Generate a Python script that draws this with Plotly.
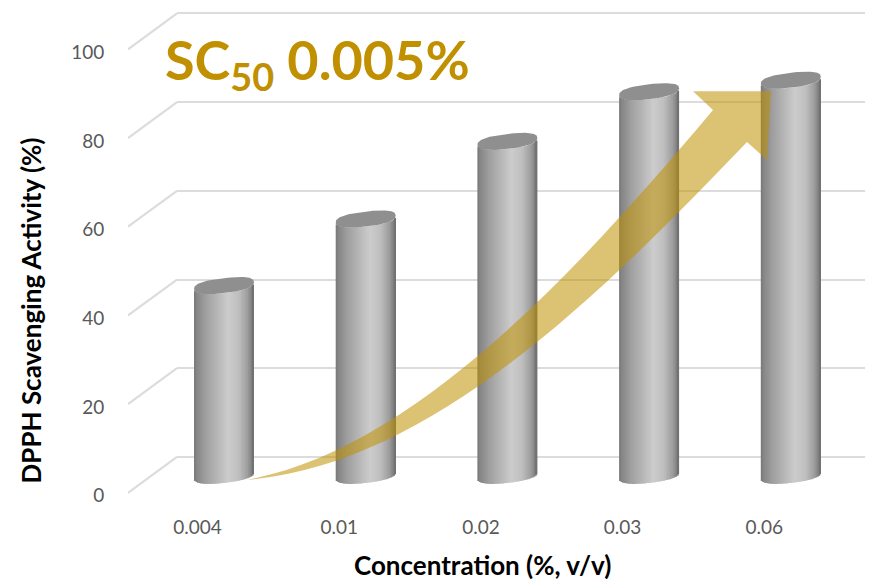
import plotly.graph_objects as go
import numpy as np

# ---- data ----
categories = ["0.004", "0.01", "0.02", "0.03", "0.06"]
scavenging = [42.8, 57.8, 75.3, 86.5, 89.1]
y_ticks = [0, 20, 40, 60, 80, 100]

# ---- styling / geometry (pixels of the 879x582 page) ----
W, H = 879, 582
Y_NUDGE = 1.5         # page offset of the whole figure
PX_PER_UNIT = 4.45
STEP = 141.7
LABEL_X0 = 197.5      # front plane: first category label
BAR_X0 = 224.0        # cylinder plane: first cylinder centre
BAR_Y0 = 475.5        # cylinder plane: pixel of value 0
LABEL_Y0 = 496.0      # pixel at which the "0" tick label is centred
FRONT_Y0 = 493.0      # front plane: pixel of value 0
BACK_Y0 = 457.0       # back wall: pixel of value 0
DEPTH_X, DEPTH_Y = 49.0, 36.0
RADIUS = 30.0
ELL_B, ELL_T = 7.5, 3.4   # ellipse half height and tilt, px
GREY_U = [-1.0, -0.93, -0.6, 0.15, 0.5, 0.8, 0.95, 1.0]
GREY_V = [118, 132, 160, 204, 190, 155, 120, 108]
N_SLICES = 40
TOP_COLOR = "#8f8f8f"
TICK_COLOR = "#595959"
GRID_COLOR = "#dcdcdc"
GRID_WIDTH = 2.2
GOLD = "#c09000"
FONT = "Lato"


def dom_x(a, b):
    return [a / W, b / W]


def py(y):
    return 1 - (y + Y_NUDGE) / H


def dom_y(top, bottom):
    return [py(bottom), py(top)]


def px(x, y):
    return f"{x / W:.5f},{py(y):.5f}"


fig = go.Figure()

# --- subplot 1: back wall gridlines
gx0, gx1, gtop, gbot = 177, 865, 6, 462
back_range = [(BACK_Y0 - gbot) / PX_PER_UNIT, (BACK_Y0 - gtop) / PX_PER_UNIT]
fig.add_trace(go.Scatter(x=[0], y=[0], mode="none", xaxis="x", yaxis="y",
                         showlegend=False, hoverinfo="skip"))

# --- subplot 2: front plane, holds the tick labels and the slanted wall lines
ax0, ax1, atop, abot = 128, W, 0, 505
front_x_range = [(ax0 - LABEL_X0) / STEP, (ax1 - LABEL_X0) / STEP]
front_y_range = [(LABEL_Y0 - abot) / PX_PER_UNIT, (LABEL_Y0 - atop) / PX_PER_UNIT]
label_shift = (LABEL_Y0 - FRONT_Y0) / PX_PER_UNIT
slant_x, slant_y = [], []
for v in y_ticks:
    slant_x += [front_x_range[0], front_x_range[0] + DEPTH_X / STEP, None]
    slant_y += [v + label_shift, v + label_shift + DEPTH_Y / PX_PER_UNIT, None]
fig.add_trace(go.Scatter(x=slant_x, y=slant_y, mode="lines", xaxis="x2", yaxis="y2",
                         line=dict(color=GRID_COLOR, width=GRID_WIDTH),
                         showlegend=False, hoverinfo="skip"))

# --- subplot 3: cylinders
bar_x_range = [(0 - BAR_X0) / STEP, (W - BAR_X0) / STEP]
bar_y_range = [(BAR_Y0 - (H - Y_NUDGE)) / PX_PER_UNIT, (BAR_Y0 + Y_NUDGE) / PX_PER_UNIT]
centres = np.arange(len(categories), dtype=float)
values = np.array(scavenging)
du = 2.0 / N_SLICES
for k in range(N_SLICES):
    u = -1 + (k + 0.5) * du
    grey = int(round(np.interp(u, GREY_U, GREY_V)))
    arc = (ELL_B * (1 - abs(u) ** 2.4) ** 0.42 - ELL_T * u) / PX_PER_UNIT  # front arc drop
    off = (u - du / 2) * RADIUS / STEP
    wid = (du * 1.6 if k < N_SLICES - 1 else du) * RADIUS / STEP
    # each slice runs from the lower arc up to the value, so its height is the value
    fig.add_trace(go.Bar(x=centres, y=values, base=-arc, width=wid, offset=off,
                         xaxis="x3", yaxis="y3",
                         marker=dict(color=f"rgb({grey},{grey},{grey})", line_width=0),
                         showlegend=False, hoverinfo="skip"))
t = np.linspace(0, 2 * np.pi, 81)
for c, v in zip(centres, values):
    s = np.sign(np.sin(t)) * np.abs(np.sin(t)) ** 0.8
    co = np.sign(np.cos(t)) * np.abs(np.cos(t)) ** 0.8
    fig.add_trace(go.Scatter(
        x=c + co * RADIUS / STEP,
        y=v + (ELL_B * s + ELL_T * co) / PX_PER_UNIT,
        mode="lines", fill="toself", fillcolor=TOP_COLOR, line=dict(width=0),
        xaxis="x3", yaxis="y3", showlegend=False, hoverinfo="skip"))

# --- curved arrow
arrow = ("M " + px(247, 480)
         + " C " + px(410, 450) + " " + px(570, 280) + " " + px(713, 109)
         + " L " + px(693, 90) + " L " + px(771, 90) + " L " + px(767, 159) + " L " + px(747, 141)
         + " C " + px(600, 295) + " " + px(430, 465) + " " + px(247, 480) + " Z")
shapes = [dict(type="path", path=arrow, xref="paper", yref="paper", layer="above",
               fillcolor="rgba(191,144,0,0.55)", line=dict(width=0))]

hidden = dict(showgrid=False, zeroline=False, showticklabels=False, ticks="", showline=False, fixedrange=True)
fig.update_layout(
    width=W, height=H, margin=dict(l=0, r=0, t=0, b=0),
    paper_bgcolor="white", plot_bgcolor="rgba(0,0,0,0)",
    barmode="overlay", showlegend=False, shapes=shapes,
    font=dict(family=FONT),
    xaxis=dict(domain=dom_x(gx0, gx1), range=[0, 1], anchor="y", **hidden),
    yaxis=dict(domain=dom_y(gtop, gbot), range=back_range, anchor="x",
               showgrid=True, gridcolor=GRID_COLOR, gridwidth=GRID_WIDTH, tickmode="array", tickvals=y_ticks,
               zeroline=False, showticklabels=False, ticks="", showline=False, fixedrange=True),
    xaxis2=dict(domain=dom_x(ax0, ax1), range=front_x_range, anchor="y2",
                tickmode="array", tickvals=list(range(len(categories))), ticktext=categories,
                ticks="outside", ticklen=5, tickcolor="rgba(0,0,0,0)",
                tickfont=dict(family=FONT, size=19, color=TICK_COLOR),
                showgrid=False, zeroline=False, showline=False, fixedrange=True),
    yaxis2=dict(domain=dom_y(atop, abot), range=front_y_range, anchor="x2",
                tickmode="array", tickvals=y_ticks,
                ticks="outside", ticklen=19, tickcolor="rgba(0,0,0,0)",
                tickfont=dict(family=FONT, size=19, color=TICK_COLOR),
                showgrid=False, zeroline=False, showline=False, fixedrange=True),
    xaxis3=dict(domain=[0, 1], range=bar_x_range, anchor="y3", **hidden),
    yaxis3=dict(domain=[0, 1], range=bar_y_range, anchor="x3", **hidden),
    annotations=[
        dict(text="<b>Concentration (%, v/v)</b>", xref="paper", yref="paper",
             x=483 / W, y=py(565), showarrow=False, xanchor="center", yanchor="middle",
             font=dict(family=FONT, size=26, color="black")),
        dict(text="<b>DPPH Scavenging Activity (%)</b>", xref="paper", yref="paper",
             x=31 / W, y=py(310), showarrow=False, textangle=-90, xanchor="center", yanchor="middle",
             font=dict(family=FONT, size=26, color="black")),
        dict(text="<b>SC<sub>50</sub> 0.005%</b>", xref="paper", yref="paper",
             x=163 / W, y=py(62), showarrow=False, xanchor="left", yanchor="middle",
             font=dict(family=FONT, size=54, color=GOLD)),
    ],
)
fig.write_html("out.html", config={"displayModeBar": False},
               post_script="document.body.style.margin='0';")
